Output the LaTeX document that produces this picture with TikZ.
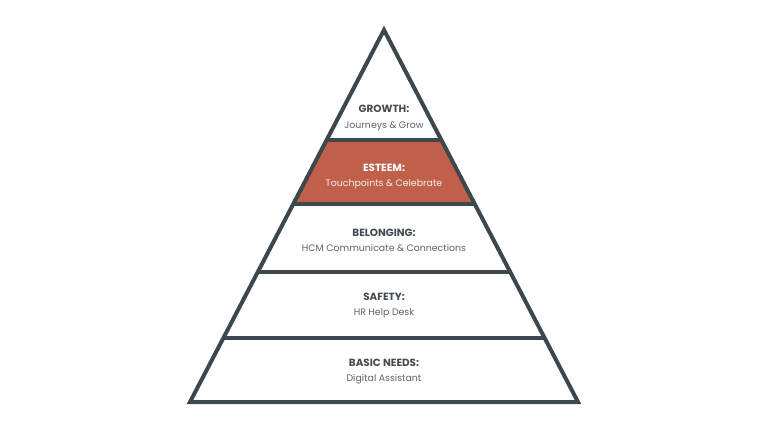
\documentclass[tikz,border=0pt]{standalone}
\usepackage{fontspec}
\usetikzlibrary{calc}
\setmainfont{Poppins}
\definecolor{edge}{HTML}{3D474E}
\definecolor{esteemfill}{HTML}{C0604A}
\definecolor{titlec}{HTML}{444A50}
\definecolor{subc}{HTML}{5E6368}
\tikzset{
  sep/.style={draw=edge, line width=4pt},
  title/.style={font=\fontsize{10.4}{12}\selectfont\bfseries, text=titlec, inner sep=0pt, anchor=base},
  sub/.style={font=\fontsize{9.4}{11}\selectfont, text=subc, inner sep=0pt, anchor=base}
}
\begin{document}
\begin{tikzpicture}[x=1pt,y=-1pt]
\useasboundingbox[fill=white] (0,0) rectangle (768,432);
\coordinate (apex) at (384,30);
\coordinate (bl) at (190,402);
\coordinate (br) at (578,402);
% esteem fill
\fill[esteemfill] ($(apex)!110/372!(bl)$) -- ($(apex)!110/372!(br)$) -- ($(apex)!174/372!(br)$) -- ($(apex)!174/372!(bl)$) -- cycle;
% separators
\foreach \d/\n in {110/a,174/b,242/c,308/d}{
  \coordinate (l\n) at ($(apex)!\d/372!(bl)$);
  \coordinate (r\n) at ($(apex)!\d/372!(br)$);
  \draw[sep] (l\n) -- (r\n);
}
\draw[sep, line join=miter] (apex) -- (bl) -- (br) -- cycle;
% texts
\node[title] (t1) at (384,112) {GROWTH:};
\node[sub] (s1) at (384,128) {Journeys \& Grow};
\node[title, text=white] (t2) at (384,171) {ESTEEM:};
\node[sub, text=white!90!esteemfill] (s2) at (384,186) {Touchpoints \& Celebrate};
\node[title] (t3) at (384,236) {BELONGING:};
\node[sub] (s3) at (384,251) {HCM Communicate \& Connections};
\node[title] (t4) at (384,300) {SAFETY:};
\node[sub] (s4) at (384,315) {HR Help Desk};
\node[title] (t5) at (384,366) {BASIC NEEDS:};
\node[sub] (s5) at (384,381) {Digital Assistant};
\end{tikzpicture}
\end{document}
